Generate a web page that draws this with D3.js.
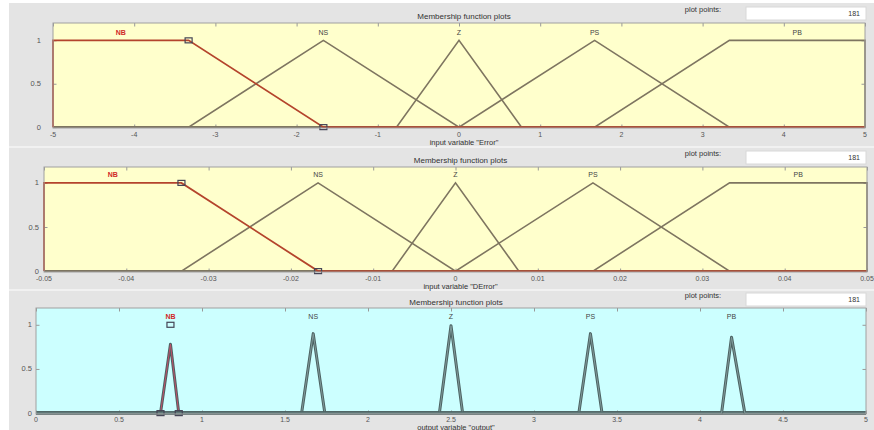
<!DOCTYPE html>
<html>
<head>
<meta charset="utf-8">
<script src="https://cdn.jsdelivr.net/npm/d3@7"></script>
<style>
body { margin: 0; background: #fff; }
svg { display: block; }
text { font-family: "Liberation Sans", Arial, sans-serif; }
</style>
</head>
<body>
<div id="chart"></div>
<script>
// membership functions
var mfNames = ["NB", "NS", "Z", "PS", "PB"];
var yTicks = [0, 0.5, 1];
var plotPoints = 181;

var errorRange = [-5, 5];
var errorTicks = [-5, -4, -3, -2, -1, 0, 1, 2, 3, 4, 5];
var errorParams = [[-5, -5, -3.33, -1.67], [-3.33, -1.67, 0], [-0.77, 0, 0.77], [0, 1.67, 3.33], [1.67, 3.33, 5, 5]];

var derrorRange = [-0.05, 0.05];
var derrorTicks = [-0.05, -0.04, -0.03, -0.02, -0.01, 0, 0.01, 0.02, 0.03, 0.04, 0.05];
var derrorParams = [[-0.05, -0.05, -0.0333, -0.0167], [-0.0333, -0.0167, 0], [-0.0077, 0, 0.0077], [0, 0.0167, 0.0333], [0.0167, 0.0333, 0.05, 0.05]];

var outputRange = [0, 5];
var outputTicks = [0, 0.5, 1, 1.5, 2, 2.5, 3, 3.5, 4, 4.5, 5];
var outputParams = [[0.75, 0.81, 0.86], [1.6, 1.67, 1.74], [2.43, 2.5, 2.57], [3.27, 3.34, 3.41], [4.13, 4.19, 4.27]];
var outputPeaks = [0.78, 0.9, 0.99, 0.9, 0.86];

var W = 874, H = 430;

var svg = d3.select("#chart").append("svg")
    .attr("width", W)
    .attr("height", H);

svg.append("rect").attr("x", 9).attr("y", 3).attr("width", W - 9).attr("height", H - 3).attr("fill", "#e4e4e4");
[147, 290].forEach(function(y) {
    svg.append("line").attr("x1", 9).attr("x2", W).attr("y1", y).attr("y2", y)
        .attr("stroke", "#f6f6f6").attr("stroke-width", 1.5);
});

function fmt(v) { return String(+v.toFixed(3)); }

// corner points of a trimf / trapmf, over the whole range
function mfPoints(p, peak, dom) {
    var q = p.length == 3 ? [p[0], p[1], p[1], p[2]] : p;
    return [[dom[0], 0], [q[0], 0], [q[1], peak], [q[2], peak], [q[3], 0], [dom[1], 0]];
}

function drawPanel(cfg) {
    var x = d3.scaleLinear().domain(cfg.range).range([cfg.left, cfg.right]);
    var y = d3.scaleLinear().domain(cfg.ydom).range([cfg.bottom, cfg.top]);
    var g = svg.append("g");

    g.append("text")
        .attr("x", (cfg.left + cfg.right) / 2 + 5).attr("y", cfg.titleY)
        .attr("text-anchor", "middle").attr("font-size", 8).attr("fill", "#333")
        .text("Membership function plots");

    // plot points box
    g.append("text")
        .attr("x", 703).attr("y", cfg.boxY + 5)
        .attr("text-anchor", "middle").attr("font-size", 7.5).attr("fill", "#333")
        .text("plot points:");
    g.append("rect")
        .attr("x", 746).attr("y", cfg.boxY).attr("width", 120).attr("height", 13)
        .attr("fill", "#fff").attr("stroke", "#d8d8d8");
    g.append("text")
        .attr("x", 860).attr("y", cfg.boxY + 9)
        .attr("text-anchor", "end").attr("font-size", 7).attr("fill", "#333")
        .text(plotPoints);

    g.append("rect")
        .attr("x", cfg.left).attr("y", cfg.top)
        .attr("width", cfg.right - cfg.left).attr("height", cfg.bottom - cfg.top)
        .attr("fill", cfg.bg);

    // ticks, inside on all four sides
    var tl = 3.5;
    function greyTicks(a) { a.select(".domain").remove(); a.selectAll("line").attr("stroke", "#999"); }
    g.append("g").attr("transform", "translate(0," + cfg.bottom + ")")
        .call(d3.axisTop(x).tickValues(cfg.ticks).tickSize(tl).tickFormat(""))
        .call(greyTicks);
    g.append("g").attr("transform", "translate(0," + cfg.top + ")")
        .call(d3.axisBottom(x).tickValues(cfg.ticks).tickSize(tl).tickFormat(""))
        .call(greyTicks);
    g.append("g").attr("transform", "translate(" + cfg.left + ",0)")
        .call(d3.axisRight(y).tickValues(yTicks).tickSize(tl).tickFormat(""))
        .call(greyTicks);
    g.append("g").attr("transform", "translate(" + cfg.right + ",0)")
        .call(d3.axisLeft(y).tickValues(yTicks).tickSize(tl).tickFormat(""))
        .call(greyTicks);

    g.selectAll(".xl").data(cfg.ticks).enter().append("text")
        .attr("x", function(d) { return x(d); }).attr("y", cfg.bottom + cfg.tickDy)
        .attr("text-anchor", "middle").attr("font-size", 7).attr("fill", "#555")
        .text(fmt);
    g.selectAll(".yl").data(yTicks).enter().append("text")
        .attr("x", cfg.yLabelX).attr("y", function(d) { return y(d) + 2.5; })
        .attr("text-anchor", "end").attr("font-size", 7.5).attr("fill", "#555")
        .text(fmt);

    g.append("text")
        .attr("x", (cfg.left + cfg.right) / 2 + 5).attr("y", cfg.bottom + cfg.labelDy)
        .attr("text-anchor", "middle").attr("font-size", 7.5).attr("fill", "#333")
        .text(cfg.xlabel);

    var line = d3.line().x(function(d) { return x(d[0]); }).y(function(d) { return y(d[1]); });
    var order = cfg.redFirst ? [0, 1, 2, 3, 4] : [1, 2, 3, 4, 0];
    order.forEach(function(i) {
        var pk = cfg.peaks ? cfg.peaks[i] : 1;
        var pts = mfPoints(cfg.params[i], pk, cfg.range);
        var sel = i == 0;
        if (cfg.thick) {
            g.append("path").datum(pts).attr("d", line).attr("fill", "none")
                .attr("stroke", "#4c6262").attr("stroke-width", 3).attr("stroke-linejoin", "round");
            g.append("path").datum(pts).attr("d", line).attr("fill", "none")
                .attr("stroke", sel ? "#c0506a" : "#7f9a9a").attr("stroke-width", 1).attr("stroke-linejoin", "round");
        } else {
            g.append("path").datum(pts).attr("d", line).attr("fill", "none")
                .attr("stroke", sel ? "#b4442c" : "#7e7560").attr("stroke-width", sel ? 1.8 : 1.6);
        }
    });

    // markers on the selected one
    var p = cfg.params[0];
    var marks = p.length == 3 ? [[p[0], 0], [p[1], 1], [p[2], 0]] : [[p[2], 1], [p[3], 0]];
    g.selectAll(".mk").data(marks).enter().append("rect")
        .attr("x", function(d) { return x(d[0]) - 3.5; })
        .attr("y", function(d) { return y(d[1]) - 2.5; })
        .attr("width", 7).attr("height", 5)
        .attr("fill", "none").attr("stroke", "#445").attr("stroke-width", 1.2);

    g.selectAll(".nm").data(cfg.params).enter().append("text")
        .attr("x", function(d) {
            var q = d.length == 3 ? [d[1], d[1]] : [d[1], d[2]];
            return x((q[0] + q[1]) / 2);
        })
        .attr("y", y(1.1) + 3)
        .attr("text-anchor", "middle").attr("font-size", 7)
        .attr("font-weight", function(d, i) { return i == 0 ? "bold" : "normal"; })
        .attr("fill", function(d, i) { return i == 0 ? "#d02828" : "#444"; })
        .text(function(d, i) { return mfNames[i]; });

    g.append("rect")
        .attr("x", cfg.left).attr("y", cfg.top)
        .attr("width", cfg.right - cfg.left).attr("height", cfg.bottom - cfg.top)
        .attr("fill", "none").attr("stroke", "#a0a0a0");
}

drawPanel({ range: errorRange, ticks: errorTicks, params: errorParams,
    left: 53, right: 865, top: 23, bottom: 128, ydom: [-0.01, 1.2],
    titleY: 19, boxY: 7, yLabelX: 41, bg: "#ffffcc", xlabel: 'input variable "Error"',
    tickDy: 8.5, labelDy: 17 });

drawPanel({ range: derrorRange, ticks: derrorTicks, params: derrorParams,
    left: 44, right: 867, top: 167, bottom: 272, ydom: [-0.01, 1.18],
    titleY: 163, boxY: 151, yLabelX: 39, bg: "#ffffcc", xlabel: 'input variable "DError"',
    tickDy: 8.5, labelDy: 17 });

drawPanel({ range: outputRange, ticks: outputTicks, params: outputParams, peaks: outputPeaks,
    left: 36, right: 866, top: 308, bottom: 414, ydom: [-0.01, 1.19],
    titleY: 305, boxY: 293, yLabelX: 32, bg: "#ccffff", xlabel: 'output variable "output"',
    tickDy: 8, labelDy: 15.5, thick: true, redFirst: true });
</script>
</body>
</html>
